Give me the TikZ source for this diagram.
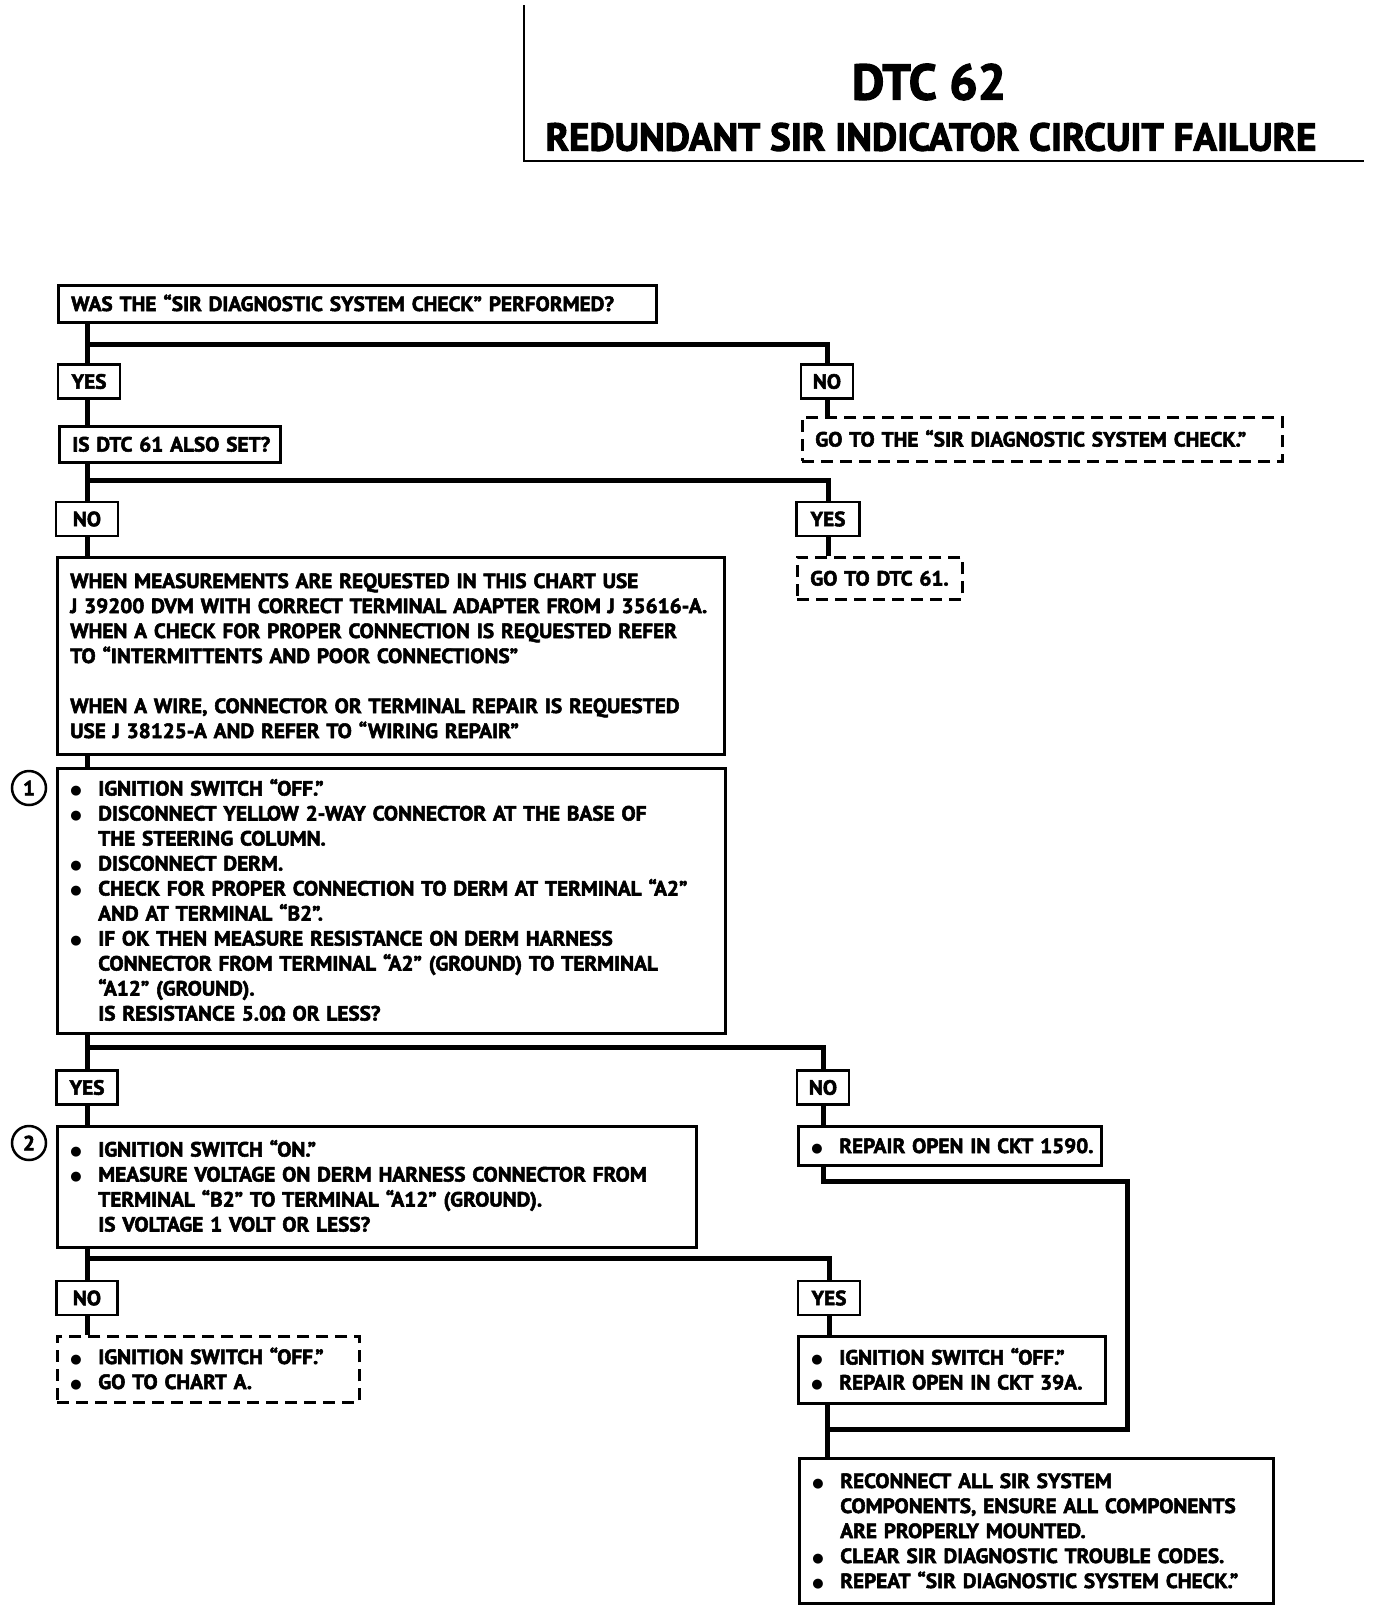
\documentclass[tikz,border=0pt]{standalone}
\usepackage{fontspec}
\setmainfont{PT Sans}[BoldFeatures={FakeBold=2.6}]
\newfontfamily\bodyfont{PT Sans}[FakeStretch=1.03,BoldFeatures={FakeBold=2.6}]
\newfontfamily\omfont{Fira Sans}[FakeStretch=1.03,BoldFeatures={FakeBold=2.6}]
\newfontfamily\dotfont{DejaVu Sans}
\newcommand\chartfont{\bodyfont\bfseries\fontsize{20.6}{25}\selectfont}
\newcommand\bul{\makebox[28pt][l]{\raisebox{1pt}{\dotfont\fontsize{13}{13}\selectfont ●}}}
\newcommand\ind{\hspace*{28pt}}
\newcommand\boxlines[1]{\begin{tabular}{@{}l@{}}\rule{0pt}{22pt}#1\end{tabular}}
\tikzset{
  box/.style 2 args={draw,line width=2.5pt,anchor=north west,inner xsep=13pt,inner ysep=0pt,
    align=left,text width=#1,minimum height=#2,font=\chartfont},
  dashbox/.style 2 args={box={#1}{#2},dash pattern=on 12pt off 7pt},
  tag/.style={draw,line width=2.5pt,inner sep=0pt,minimum width=#1,minimum height=34pt,font=\chartfont},
  tag/.default=62pt,
  stepnum/.style={circle,draw,line width=2.5pt,minimum size=34pt,inner sep=0pt,font=\chartfont},
  link/.style={line width=5pt}
}
\begin{document}
\begin{tikzpicture}[x=1pt,y=-1pt]
\useasboundingbox (0,0) rectangle (1376,1610);
\draw[line width=2.8pt](524,5) |- (1364,161);
\node[name=title_num, font=\bfseries\fontsize{50}{50}\selectfont] at (929,82) {DTC 62};
\node[name=title_name, font=\bfseries\fontsize{39}{40}\selectfont] at (931,137) {REDUNDANT SIR INDICATOR CIRCUIT FAILURE};

\node[name=q_performed, box={572pt}{37pt}] at (57,284) {\boxlines{WAS THE “SIR DIAGNOSTIC SYSTEM CHECK” PERFORMED?}};
\node[name=yes_a, tag] at (89,381.5) {YES};
\node[name=no_a, tag=52pt] at (827,381.5) {NO};
\node[name=q_dtc61, box={195pt}{36pt}] at (58,425) {\boxlines{IS DTC 61 ALSO SET?}};
\node[name=go_check, dashbox={454pt}{44pt}] at (801,416) {\boxlines{GO TO THE “SIR DIAGNOSTIC SYSTEM CHECK.”}};
\node[name=no_b, tag] at (87,519) {NO};
\node[name=yes_b, tag=63pt] at (828,519) {YES};
\node[name=note_box, box={641pt}{197pt}] at (56,556) {\boxlines{WHEN MEASUREMENTS ARE REQUESTED IN THIS CHART USE\\
J 39200 DVM WITH CORRECT TERMINAL ADAPTER FROM J 35616-A.\\
WHEN A CHECK FOR PROPER CONNECTION IS REQUESTED REFER\\
TO “INTERMITTENTS AND POOR CONNECTIONS”\\[25pt]
WHEN A WIRE, CONNECTOR OR TERMINAL REPAIR IS REQUESTED\\
USE J 38125-A AND REFER TO “WIRING REPAIR”}};
\node[name=go_dtc61, dashbox={139pt}{42pt}] at (796,556) {\boxlines{GO TO DTC 61.}};
\node[name=step_1, box={642pt}{265pt}] at (56,767) {\boxlines{\bul IGNITION SWITCH “OFF.”\\
\bul DISCONNECT YELLOW 2-WAY CONNECTOR AT THE BASE OF\\
\ind THE STEERING COLUMN.\\
\bul DISCONNECT DERM.\\
\bul CHECK FOR PROPER CONNECTION TO DERM AT TERMINAL “A2”\\
\ind AND AT TERMINAL “B2”.\\
\bul IF OK THEN MEASURE RESISTANCE ON DERM HARNESS\\
\ind CONNECTOR FROM TERMINAL “A2” (GROUND) TO TERMINAL\\
\ind “A12” (GROUND).\\
\ind IS RESISTANCE 5.0{\omfont Ω} OR LESS?}};
\node[name=num_1, stepnum] at (29,788) {1};
\node[name=yes_c, tag=61pt] at (87,1087.5) {YES};
\node[name=no_c, tag=52pt] at (823,1087.5) {NO};
\node[name=step_2, box={613pt}{121pt}] at (56,1125) {\boxlines{\bul IGNITION SWITCH “ON.”\\
\bul MEASURE VOLTAGE ON DERM HARNESS CONNECTOR FROM\\
\ind TERMINAL “B2” TO TERMINAL “A12” (GROUND).\\
\ind IS VOLTAGE 1 VOLT OR LESS?}};
\node[name=num_2, stepnum] at (29,1143) {2};
\node[name=fix_1590, box={277pt}{39pt}] at (797,1125) {\boxlines{\bul REPAIR OPEN IN CKT 1590.}};
\node[name=no_d, tag=61pt] at (87,1298) {NO};
\node[name=yes_d, tag] at (829,1298) {YES};
\node[name=chart_a, dashbox={276pt}{66pt}] at (56,1335) {\boxlines{\bul IGNITION SWITCH “OFF.”\\
\bul GO TO CHART A.}};
\node[name=fix_39a, box={281pt}{67pt}] at (797,1335) {\boxlines{\bul IGNITION SWITCH “OFF.”\\
\bul REPAIR OPEN IN CKT 39A.}};
\node[name=final_box, box={448pt}{145pt}] at (798,1457) {\boxlines{\bul RECONNECT ALL SIR SYSTEM\\
\ind COMPONENTS, ENSURE ALL COMPONENTS\\
\ind ARE PROPERLY MOUNTED.\\
\bul CLEAR SIR DIAGNOSTIC TROUBLE CODES.\\
\bul REPEAT “SIR DIAGNOSTIC SYSTEM CHECK.”}};

\coordinate (fork_a) at (87,344);
\coordinate (fork_b) at (87,480);
\coordinate (fork_c) at (87,1047);
\coordinate (fork_d) at (87,1258);
\coordinate (loop_top) at (1127,1181);
\coordinate (join_a) at (827,1429);

\draw[link](q_performed.south -| fork_a) -- (yes_a.north -| fork_a);
\draw[link](fork_a) -| (no_a.north);
\draw[link](yes_a.south -| fork_a) -- (q_dtc61.north -| fork_a);
\draw[link](no_a.south) -- (go_check.north -| no_a);
\draw[link](q_dtc61.south -| fork_b) -- (no_b.north -| fork_b);
\draw[link](fork_b) -| (yes_b.north);
\draw[link](no_b.south -| fork_b) -- (note_box.north -| fork_b);
\draw[link](yes_b.south) -- (go_dtc61.north -| yes_b);
\draw[link](note_box.south -| fork_b) -- (step_1.north -| fork_b);
\draw[link](step_1.south -| fork_c) -- (yes_c.north -| fork_c);
\draw[link](fork_c) -| (no_c.north);
\draw[link](yes_c.south -| fork_c) -- (step_2.north -| fork_c);
\draw[link](no_c.south) -- (fix_1590.north -| no_c);
\draw[link](step_2.south -| fork_d) -- (no_d.north -| fork_d);
\draw[link](fork_d) -| (yes_d.north);
\draw[link](no_d.south -| fork_d) -- (chart_a.north -| fork_d);
\draw[link](yes_d.south) -- (fix_39a.north -| yes_d);
\draw[link](fix_1590.south -| no_c) |- (loop_top) |- (join_a);
\draw[link](fix_39a.south -| join_a) -- (final_box.north -| join_a);
\end{tikzpicture}
\end{document}
